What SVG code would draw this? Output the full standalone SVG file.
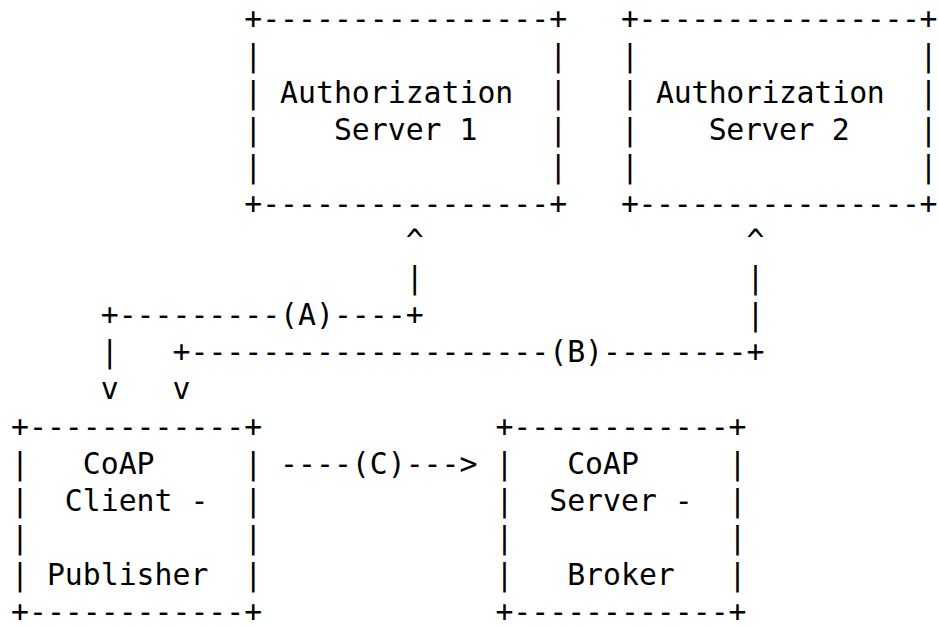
<svg xmlns="http://www.w3.org/2000/svg" width="938" height="629" viewBox="0 0 938 629" xml:space="preserve">
<style>
text { font-family: "DejaVu Sans Mono", "Liberation Mono", monospace; font-size: 29.8px; fill: #000; white-space: pre; }
</style>
<rect x="0" y="0" width="938" height="629" fill="#fff"/>
<g id="as1">
<text x="244.2" y="28.5">+----------------+</text>
<text x="244.2" y="65.6">|                |</text>
<text x="244.2" y="102.7">| Authorization  |</text>
<text x="244.2" y="139.8">|    Server 1    |</text>
<text x="244.2" y="176.9">|                |</text>
<text x="244.2" y="214">+----------------+</text>
</g>
<g id="as2">
<text x="621" y="28.5" textLength="316.5" lengthAdjust="spacing">+----------------+</text>
<text x="621" y="65.6" textLength="316.5" lengthAdjust="spacing">|                |</text>
<text x="621" y="102.7" textLength="316.5" lengthAdjust="spacing">| Authorization  |</text>
<text x="621" y="139.8" textLength="316.5" lengthAdjust="spacing">|    Server 2    |</text>
<text x="621" y="176.9" textLength="316.5" lengthAdjust="spacing">|                |</text>
<text x="621" y="214" textLength="316.5" lengthAdjust="spacing">+----------------+</text>
</g>
<g id="client">
<text x="11" y="436.5">+------------+</text>
<text x="11" y="473.6">|   CoAP     |</text>
<text x="11" y="510.7">|  Client -  |</text>
<text x="11" y="547.8">|            |</text>
<text x="11" y="584.8">| Publisher  |</text>
<text x="11" y="621.9">+------------+</text>
</g>
<g id="broker">
<text x="495.4" y="436.5">+------------+</text>
<text x="495.4" y="473.6">|   CoAP     |</text>
<text x="495.4" y="510.7">|  Server -  |</text>
<text x="495.4" y="547.8">|            |</text>
<text x="495.4" y="584.8">|   Broker   |</text>
<text x="495.4" y="621.9">+------------+</text>
</g>
<g id="connectors">
<text x="405.7" y="251.1">^</text>
<text x="746.5" y="251.1">^</text>
<text x="405.7" y="288.2">|</text>
<text x="746.5" y="288.2">|</text>
<text x="100.7" y="325.3">+---------(A)----+</text>
<text x="746.5" y="325.3">|</text>
<text x="100.7" y="362.4">|</text>
<text x="172.5" y="362.4">+--------------------(B)--------+</text>
<text x="100.7" y="399.4">v</text>
<text x="172.5" y="399.4">v</text>
<text x="280.1" y="473.6">----(C)---&gt;</text>
</g>
</svg>
